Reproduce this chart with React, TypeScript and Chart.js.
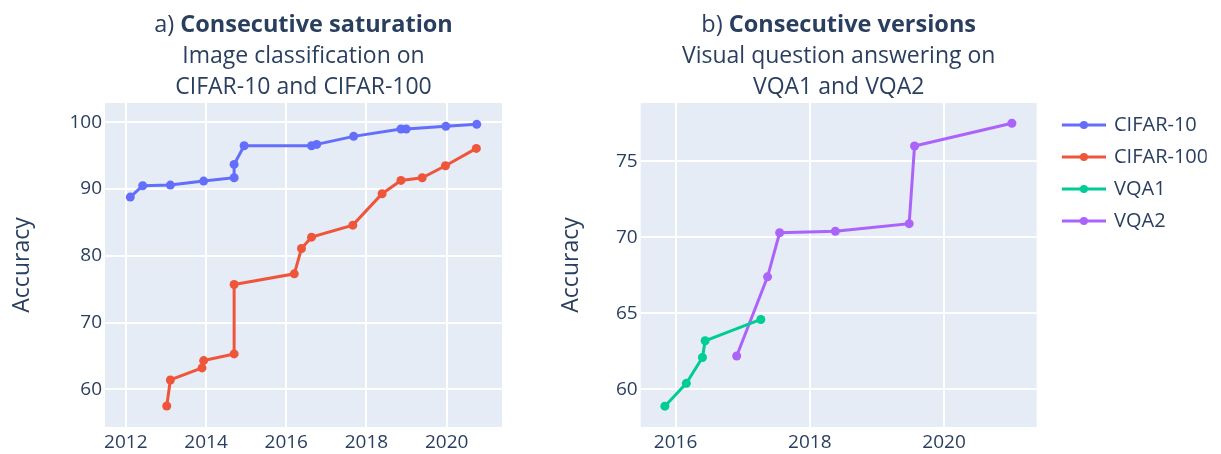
import React, { useEffect, useRef } from 'react';
import { Chart, registerables } from 'chart.js';

Chart.register(...registerables);
Chart.defaults.font.family = '"Open Sans", sans-serif';

// ---------- data ----------
const seriesNames = ['CIFAR-10', 'CIFAR-100', 'VQA1', 'VQA2'];
const seriesColors = ['#636EFA', '#EF553B', '#00CC96', '#AB63FA'];

const cifar10Years = [2012.11, 2012.42, 2013.11, 2013.94, 2014.7, 2014.7, 2014.95, 2016.63, 2016.76, 2017.68, 2018.86, 2018.99, 2019.98, 2020.75];
const cifar10Acc = [88.8, 90.5, 90.6, 91.2, 91.7, 93.7, 96.5, 96.5, 96.7, 97.9, 99.0, 99.0, 99.4, 99.7];

const cifar100Years = [2013.02, 2013.11, 2013.9, 2013.94, 2014.7, 2014.7, 2016.2, 2016.38, 2016.63, 2017.66, 2018.39, 2018.86, 2019.39, 2019.97, 2020.74];
const cifar100Acc = [57.5, 61.4, 63.2, 64.3, 65.3, 75.7, 77.3, 81.1, 82.8, 84.6, 89.3, 91.3, 91.7, 93.5, 96.1];

const vqa1Years = [2015.84, 2016.16, 2016.4, 2016.44, 2017.27];
const vqa1Acc = [58.9, 60.4, 62.1, 63.2, 64.6];

const vqa2Years = [2016.91, 2017.37, 2017.55, 2018.38, 2019.48, 2019.56, 2021.01];
const vqa2Acc = [62.2, 67.4, 70.3, 70.4, 70.9, 76.0, 77.5];

const leftXTicks = [2012, 2014, 2016, 2018, 2020];
const leftYTicks = [60, 70, 80, 90, 100];
const rightXTicks = [2016, 2018, 2020];
const rightYTicks = [60, 65, 70, 75];

const leftXRange = [2011.48, 2021.38];
const leftYRange = [54.35, 102.9];
const rightXRange = [2015.48, 2021.38];
const rightYRange = [57.53, 78.83];

const leftTitle = { prefix: 'a) ', bold: 'Consecutive saturation', lines: ['Image classification on', 'CIFAR-10 and CIFAR-100'] };
const rightTitle = { prefix: 'b) ', bold: 'Consecutive versions', lines: ['Visual question answering on', 'VQA1 and VQA2'] };
const yAxisTitle = 'Accuracy';

// ---------- styling ----------
const TEXT_COLOR = '#2a3f5f';
const PLOT_BG = '#E5ECF6';
const TITLE_BASELINES = [31.5, 62.5, 94];
const TITLE_SIZE = 23.5;
const SUBTITLE_SIZE = 23;

const plotBg = {
  id: 'plotBg',
  beforeDraw(chart: any) {
    const { ctx, chartArea: a } = chart;
    ctx.save();
    ctx.fillStyle = PLOT_BG;
    ctx.fillRect(a.left, a.top, a.right - a.left, a.bottom - a.top);
    ctx.restore();
  },
};

function titlePlugin(t: { prefix: string; bold: string; lines: string[] }) {
  return {
    id: 'subplotTitle',
    afterDraw(chart: any) {
      const { ctx, chartArea } = chart;
      const cx = (chartArea.left + chartArea.right) / 2;
      const reg = `${TITLE_SIZE}px "Open Sans", sans-serif`;
      const bold = `bold ${TITLE_SIZE}px "Open Sans", sans-serif`;
      const sub = `${SUBTITLE_SIZE}px "Open Sans", sans-serif`;
      ctx.save();
      ctx.fillStyle = TEXT_COLOR;
      ctx.textBaseline = 'alphabetic';
      ctx.font = reg;
      const w1 = ctx.measureText(t.prefix).width;
      ctx.font = bold;
      const w2 = ctx.measureText(t.bold).width;
      const x0 = cx - (w1 + w2) / 2;
      ctx.textAlign = 'left';
      ctx.font = reg;
      ctx.fillText(t.prefix, x0, TITLE_BASELINES[0]);
      ctx.font = bold;
      ctx.fillText(t.bold, x0 + w1, TITLE_BASELINES[0]);
      ctx.font = sub;
      ctx.textAlign = 'center';
      t.lines.forEach((l, i) => ctx.fillText(l, cx, TITLE_BASELINES[i + 1]));
      ctx.restore();
    },
  };
}

function dataset(name: string, color: string, xs: number[], ys: number[]) {
  return {
    label: name,
    data: xs.map((x, i) => ({ x, y: ys[i] })),
    borderColor: color,
    backgroundColor: color,
    borderWidth: 3,
    pointRadius: 4.5,
    pointBorderWidth: 0,
    pointBackgroundColor: color,
    tension: 0,
  };
}

function scales(xr: number[], yr: number[], xt: number[], yt: number[], yWidth: number, yTitlePad: number) {
  const grid = { color: '#ffffff', lineWidth: 2, drawTicks: false };
  return {
    x: {
      type: 'linear',
      min: xr[0],
      max: xr[1],
      grid,
      border: { display: false },
      afterBuildTicks: (s: any) => { s.ticks = xt.map((v) => ({ value: v })); },
      afterFit: (s: any) => { s.height = 27; },
      ticks: { color: TEXT_COLOR, font: { size: 19 }, padding: 4, maxRotation: 0, autoSkip: false, callback: (v: any) => String(v) },
    },
    y: {
      type: 'linear',
      min: yr[0],
      max: yr[1],
      grid,
      border: { display: false },
      afterBuildTicks: (s: any) => { s.ticks = yt.map((v) => ({ value: v })); },
      afterFit: (s: any) => { s.width = yWidth; },
      ticks: { color: TEXT_COLOR, font: { size: 19 }, padding: 3, autoSkip: false, callback: (v: any) => String(v) },
      title: { display: true, text: yAxisTitle, color: TEXT_COLOR, font: { size: 23, weight: 'normal' }, padding: { top: yTitlePad, bottom: 0 } },
    },
  };
}

function legendIcon(color: string) {
  const c = document.createElement('canvas');
  c.width = 59;
  c.height = 12;
  const g = c.getContext('2d')!;
  g.strokeStyle = color;
  g.lineWidth = 3;
  g.beginPath();
  g.moveTo(15, 6);
  g.lineTo(59, 6);
  g.stroke();
  g.fillStyle = color;
  g.beginPath();
  g.arc(37, 6, 4, 0, Math.PI * 2);
  g.fill();
  return c;
}

export default function App() {
  const leftRef = useRef<HTMLCanvasElement>(null);
  const rightRef = useRef<HTMLCanvasElement>(null);

  useEffect(() => {
    const icons = seriesColors.map(legendIcon);
    const left = new Chart(leftRef.current!, {
      type: 'line',
      data: {
        datasets: [
          dataset(seriesNames[0], seriesColors[0], cifar10Years, cifar10Acc),
          dataset(seriesNames[1], seriesColors[1], cifar100Years, cifar100Acc),
        ],
      },
      options: {
        responsive: false,
        animation: false,
        events: [],
        layout: { padding: { top: 103, left: 0, right: 28, bottom: 0 } },
        scales: scales(leftXRange, leftYRange, leftXTicks, leftYTicks, 105, 9) as any,
        plugins: { legend: { display: false }, tooltip: { enabled: false } },
      },
      plugins: [plotBg, titlePlugin(leftTitle)],
    } as any);

    const right = new Chart(rightRef.current!, {
      type: 'line',
      data: {
        datasets: [
          dataset(seriesNames[2], seriesColors[2], vqa1Years, vqa1Acc),
          dataset(seriesNames[3], seriesColors[3], vqa2Years, vqa2Acc),
        ],
      },
      options: {
        responsive: false,
        animation: false,
        events: [],
        layout: { padding: { top: 103, left: 0, right: 14.3, bottom: 0 } },
        scales: scales(rightXRange, rightYRange, rightXTicks, rightYTicks, 110.7, 28) as any,
        plugins: {
          tooltip: { enabled: false },
          legend: {
            display: true,
            position: 'right',
            align: 'start',
            maxWidth: 170,
            labels: {
              usePointStyle: true,
              pointStyleWidth: 55.3,
              padding: 12,
              color: TEXT_COLOR,
              font: { size: 20 },
              generateLabels: () =>
                seriesNames.map((name, i) => ({
                  text: name,
                  fillStyle: seriesColors[i],
                  strokeStyle: seriesColors[i],
                  lineWidth: 0,
                  pointStyle: icons[i],
                  hidden: false,
                  datasetIndex: i,
                  fontColor: TEXT_COLOR,
                })),
            },
          },
        },
      },
      plugins: [plotBg, titlePlugin(rightTitle)],
    } as any);

    return () => {
      left.destroy();
      right.destroy();
    };
  }, []);

  return (
    <div style={{ position: 'absolute', left: 0, top: 0, width: 1221, height: 454, background: '#fff', overflow: 'hidden' }}>
      <canvas ref={leftRef} width={530} height={454} style={{ position: 'absolute', left: 0, top: 0, display: 'block' }} />
      <canvas ref={rightRef} width={691} height={454} style={{ position: 'absolute', left: 530, top: 0, display: 'block' }} />
    </div>
  );
}
